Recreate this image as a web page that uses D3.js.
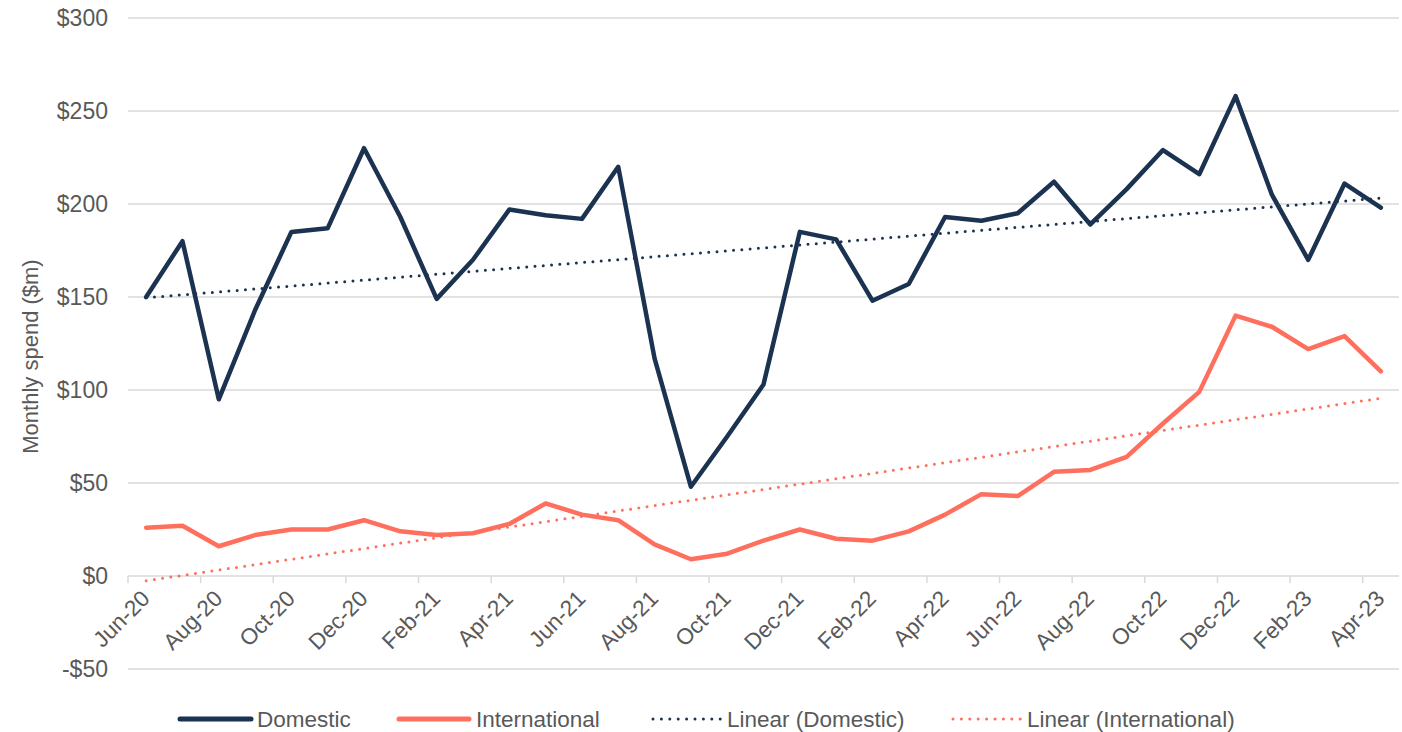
<html>
<head>
<meta charset="UTF-8">
<title>Monthly spend</title>
<script src="https://cdn.jsdelivr.net/npm/d3@7"></script>
<style>
  body { margin: 0; background: #fff; }
  .ytick { font-family: "Liberation Sans", Arial, sans-serif; font-size: 23px; fill: #595959; }
  .xtick, .legend text { font-family: "Liberation Sans Narrow", "Liberation Sans", sans-serif; font-size: 22.5px; fill: #595959; }
</style>
</head>
<body>
<svg id="chart" width="1402" height="732"></svg>
<script>
// months, Jun-20 .. Apr-23
var months = ["Jun-20","Jul-20","Aug-20","Sep-20","Oct-20","Nov-20","Dec-20","Jan-21","Feb-21","Mar-21","Apr-21","May-21",
  "Jun-21","Jul-21","Aug-21","Sep-21","Oct-21","Nov-21","Dec-21","Jan-22","Feb-22","Mar-22","Apr-22","May-22",
  "Jun-22","Jul-22","Aug-22","Sep-22","Oct-22","Nov-22","Dec-22","Jan-23","Feb-23","Mar-23","Apr-23"];
var domestic = [150,180,95,143,185,187,230,193,149,170,197,194,
  192,220,117,48,75,103,185,181,148,157,193,191,
  195,212,189,208,229,216,258,205,170,211,198];
var international = [26,27,16,22,25,25,30,24,22,23,28,39,
  33,30,17,9,12,19,25,20,19,24,33,44,
  43,56,57,64,82,99,140,134,122,129,110];
var yTicks = [-50,0,50,100,150,200,250,300];

var navy = "#1b3350", coral = "#ff6f5e";

var svg = d3.select("#chart");
var plotL = 128, plotR = 1399, plotT = 18, plotB = 669;

var x = d3.scaleBand().domain(months).range([plotL, plotR]);
var y = d3.scaleLinear().domain([-50, 300]).range([plotB, plotT]);
var cx = function(i){ return x(months[i]) + x.bandwidth()/2; };

// grid
svg.selectAll("line.grid").data(yTicks).enter().append("line")
  .attr("class","grid")
  .attr("x1", plotL).attr("x2", plotR)
  .attr("y1", function(d){return y(d);}).attr("y2", function(d){return y(d);})
  .attr("stroke", "#d9d9d9").attr("stroke-width", 1.5);

svg.selectAll("text.ytick").data(yTicks).enter().append("text")
  .attr("class","ytick")
  .attr("x", 108).attr("y", function(d){return y(d) + 8;})
  .attr("text-anchor","end")
  .text(function(d){ return (d < 0 ? "-$" : "$") + Math.abs(d); });

svg.append("text")
  .attr("class","ytick")
  .attr("transform","translate(38," + (y(118)) + ") rotate(-90)")
  .attr("text-anchor","middle")
  .style("font-size","22px")
  .text("Monthly spend ($m)");

// x-axis tick marks every 2 categories at boundaries
var tickIdx = d3.range(0, months.length, 2);
svg.selectAll("line.xt").data(tickIdx).enter().append("line")
  .attr("x1", function(i){ return x(months[i]); }).attr("x2", function(i){ return x(months[i]); })
  .attr("y1", y(0)).attr("y2", y(0) + 7)
  .attr("stroke", "#d9d9d9").attr("stroke-width", 1.5);

svg.selectAll("text.xtick").data(tickIdx).enter().append("text")
  .attr("class","xtick")
  .attr("text-anchor","end")
  .attr("transform", function(i){ return "translate(" + (cx(i) + 5) + "," + (y(0) + 24) + ") rotate(-45)"; })
  .text(function(i){ return months[i]; });

// trendlines (least squares on month index)
function trend(vals){
  var n = vals.length, xs = d3.range(n);
  var mx = d3.mean(xs), my = d3.mean(vals);
  var b = d3.sum(xs, function(i){ return (i-mx)*(vals[i]-my); }) / d3.sum(xs, function(i){ return (i-mx)*(i-mx); });
  var a = my - b*mx;
  return [[0, a], [n-1, a + b*(n-1)]];
}

var line = d3.line().x(function(d,i){ return cx(i); }).y(function(d){ return y(d); });
var tline = d3.line().x(function(d){ return cx(d[0]); }).y(function(d){ return y(d[1]); });

svg.append("path").attr("d", tline(trend(international)))
  .attr("fill","none").attr("stroke", coral).attr("stroke-width", 3)
  .attr("stroke-linecap","round").attr("stroke-dasharray","0 8.3");
svg.append("path").attr("d", tline(trend(domestic)))
  .attr("fill","none").attr("stroke", navy).attr("stroke-width", 3)
  .attr("stroke-linecap","round").attr("stroke-dasharray","0 8.3");

svg.append("path").attr("d", line(international))
  .attr("fill","none").attr("stroke", coral).attr("stroke-width", 4.5)
  .attr("stroke-linejoin","round").attr("stroke-linecap","round");
svg.append("path").attr("d", line(domestic))
  .attr("fill","none").attr("stroke", navy).attr("stroke-width", 4.5)
  .attr("stroke-linejoin","round").attr("stroke-linecap","round");

// legend
var legend = [
  {name:"Domestic", color:navy, dotted:false, x1:180, x2:251, tx:257},
  {name:"International", color:coral, dotted:false, x1:399, x2:469, tx:476},
  {name:"Linear (Domestic)", color:navy, dotted:true, x1:653, x2:721, tx:727},
  {name:"Linear (International)", color:coral, dotted:true, x1:953, x2:1021, tx:1027}
];
var lg = svg.append("g").attr("class","legend");
var ly = 719;
legend.forEach(function(l){
  var seg = lg.append("line").attr("x1", l.x1).attr("x2", l.x2)
    .attr("y1", ly).attr("y2", ly).attr("stroke", l.color)
    .attr("stroke-linecap","round");
  if (l.dotted) seg.attr("stroke-width", 3).attr("stroke-dasharray","0 8.4");
  else seg.attr("stroke-width", 5);
  lg.append("text").attr("x", l.tx).attr("y", ly + 8).text(l.name);
});
</script>
</body>
</html>
